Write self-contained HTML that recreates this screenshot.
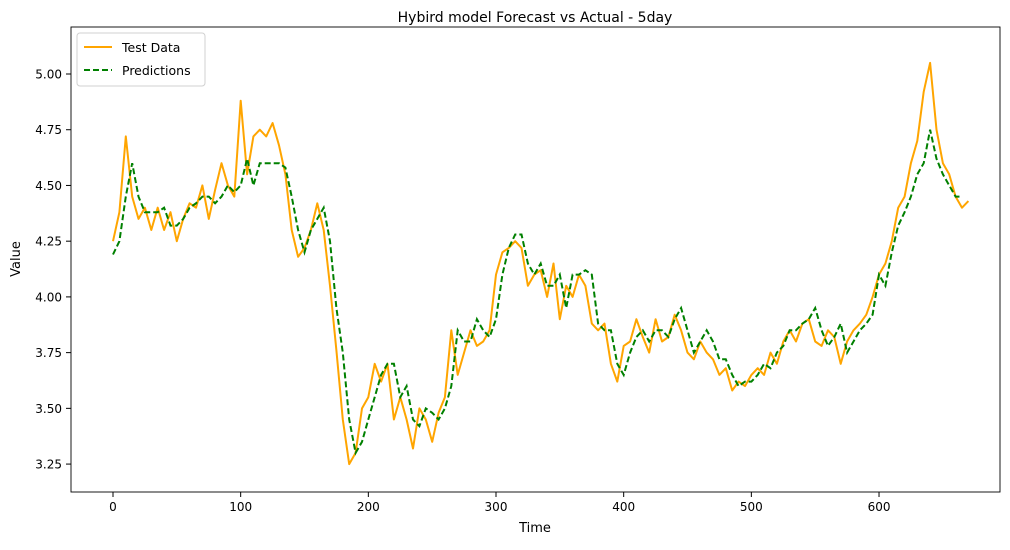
<!DOCTYPE html>
<html><head><meta charset="utf-8"><style>
body{margin:0;background:#fff;font-family:"Liberation Sans","DejaVu Sans",sans-serif}
svg text{font-family:"DejaVu Sans","Liberation Sans",sans-serif}
</style></head><body>
<svg id="chart" width="1010" height="545" xmlns="http://www.w3.org/2000/svg">
<rect width="1010" height="545" fill="#fff"/>
<text x="535" y="22" text-anchor="middle" font-size="14">Hybird model Forecast vs Actual - 5day</text>
<g id="grid"></g>
<g id="series"></g>
<rect x="71" y="27" width="929" height="465" fill="none" stroke="#000" stroke-width="0.9"/>
<text x="535" y="532" text-anchor="middle" font-size="13">Time</text>
<text x="20" y="259" text-anchor="middle" font-size="13" transform="rotate(-90 20 259)">Value</text>
<g>
<rect x="77" y="33" width="128" height="53" rx="3" fill="#fff" stroke="#d0d0d0"/>
<line x1="84" y1="47" x2="112" y2="47" stroke="orange" stroke-width="2"/>
<text x="122" y="52" font-size="12.5">Test Data</text>
<line x1="84" y1="70" x2="112" y2="70" stroke="green" stroke-width="2" stroke-dasharray="6,3"/>
<text x="122" y="75" font-size="12.5">Predictions</text>
</g>
</svg>
<script>
const xTicks=[0,100,200,300,400,500,600];
const yTicks=[3.25,3.50,3.75,4.00,4.25,4.50,4.75,5.00];
const step=5;
const testData=[4.25,4.38,4.72,4.45,4.35,4.40,4.30,4.40,4.30,4.38,4.25,4.35,4.42,4.40,4.50,4.35,4.48,4.60,4.50,4.45,4.88,4.55,4.72,4.75,4.72,4.78,4.68,4.55,4.30,4.18,4.22,4.30,4.42,4.30,4.05,3.76,3.45,3.25,3.30,3.50,3.55,3.70,3.62,3.70,3.45,3.55,3.45,3.32,3.50,3.45,3.35,3.48,3.55,3.85,3.65,3.75,3.85,3.78,3.80,3.85,4.10,4.20,4.22,4.25,4.22,4.05,4.10,4.12,4.00,4.15,3.90,4.05,4.00,4.10,4.05,3.88,3.85,3.88,3.70,3.62,3.78,3.80,3.90,3.82,3.75,3.90,3.80,3.82,3.92,3.85,3.75,3.72,3.80,3.75,3.72,3.65,3.68,3.58,3.62,3.60,3.65,3.68,3.65,3.75,3.70,3.80,3.85,3.80,3.88,3.90,3.80,3.78,3.85,3.82,3.70,3.80,3.85,3.88,3.92,4.00,4.10,4.15,4.25,4.40,4.45,4.60,4.70,4.92,5.05,4.75,4.60,4.55,4.45,4.40,4.43];
const predictions=[4.19,4.25,4.45,4.60,4.45,4.38,4.38,4.38,4.40,4.32,4.32,4.35,4.40,4.42,4.45,4.45,4.42,4.45,4.50,4.47,4.50,4.62,4.50,4.60,4.60,4.60,4.60,4.58,4.45,4.30,4.20,4.30,4.35,4.40,4.25,3.95,3.75,3.45,3.30,3.35,3.45,3.55,3.65,3.70,3.70,3.55,3.60,3.45,3.42,3.50,3.48,3.45,3.50,3.60,3.85,3.80,3.80,3.90,3.85,3.82,3.90,4.10,4.22,4.28,4.28,4.15,4.10,4.15,4.05,4.05,4.10,3.95,4.10,4.10,4.12,4.10,3.88,3.85,3.85,3.70,3.65,3.75,3.82,3.85,3.80,3.85,3.85,3.82,3.90,3.95,3.85,3.75,3.80,3.85,3.80,3.72,3.72,3.65,3.60,3.62,3.62,3.65,3.70,3.68,3.75,3.78,3.85,3.85,3.88,3.90,3.95,3.85,3.78,3.82,3.88,3.75,3.80,3.85,3.88,3.92,4.10,4.05,4.20,4.32,4.38,4.45,4.55,4.60,4.75,4.62,4.55,4.50,4.45,4.45];
const NS="http://www.w3.org/2000/svg";
const X=v=>113+v*1.2767;
const Y=v=>74+(5-v)*222.9;
const g=document.getElementById('grid'),s=document.getElementById('series');
function mk(t,a,p){const e=document.createElementNS(NS,t);for(const k in a)e.setAttribute(k,a[k]);p.appendChild(e);return e;}
xTicks.forEach(v=>{
 const l=mk('line',{x1:X(v),x2:X(v),y1:492,y2:497,stroke:'#000'},g);
 
 
 const t=mk('text',{x:X(v),y:511,'text-anchor':'middle','font-size':'12'},g);t.textContent=v;
 
 
});
yTicks.forEach(v=>{
 const l=mk('line',{x1:66,x2:71,y1:Y(v),y2:Y(v),stroke:'#000'},g);
 
 
 const t=mk('text',{x:62,y:Y(v)+4.5,'text-anchor':'end','font-size':'12'},g);t.textContent=v.toFixed(2);
 
 
});
function path(arr){return arr.map((v,i)=>(i?'L':'M')+X(i*step).toFixed(1)+','+Y(v).toFixed(1)).join('');}
const p1=mk('path',{d:path(testData),fill:'none',stroke:'orange','stroke-width':2,'stroke-linejoin':'round'},s);


const p2=mk('path',{d:path(predictions),fill:'none',stroke:'green','stroke-width':2,'stroke-dasharray':'6,3'},s);


</script>
</body></html>
